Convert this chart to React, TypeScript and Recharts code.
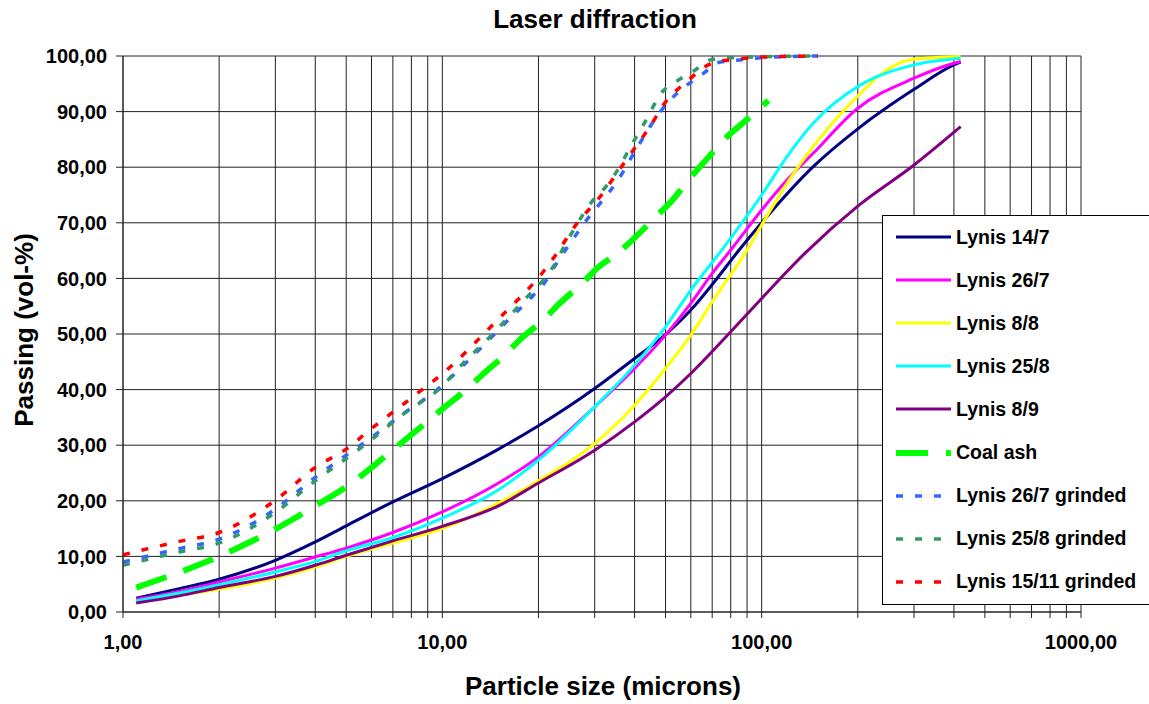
import { LineChart, Line, XAxis, YAxis, CartesianGrid } from "recharts"

// grid / tick positions
const xTicks = [1, 2, 3, 4, 5, 6, 7, 8, 9, 10, 20, 30, 40, 50, 60, 70, 80, 90, 100, 200, 300, 400, 500, 600, 700, 800, 900, 1000]
const decadeTicks = [1, 10, 100, 1000]
const yTicks = [0, 10, 20, 30, 40, 50, 60, 70, 80, 90, 100]

// Lynis 14/7
const lynis147X = [1.1, 1.5, 2, 3, 4, 5, 7, 10, 15, 20, 30, 40, 50, 60, 70, 85, 100, 145, 200, 300, 400, 420]
const lynis147Y = [2.5, 4.2, 5.9, 9.3, 12.6, 15.5, 19.8, 24.0, 29.3, 33.5, 40.2, 45.6, 49.9, 54.3, 58.9, 65.1, 70.0, 80.1, 86.9, 94.0, 98.4, 98.9]

// Lynis 26/7
const lynis267X = [1.1, 1.5, 2, 3, 4, 5, 7, 10, 15, 20, 30, 40, 50, 60, 70, 80, 100, 120, 145, 200, 300, 400, 420]
const lynis267Y = [2.3, 3.7, 5.4, 7.9, 9.9, 11.5, 14.3, 18.0, 23.2, 27.9, 36.9, 43.8, 49.8, 55.5, 60.9, 65.1, 72.3, 77.7, 82.5, 90.6, 96.0, 98.7, 99.0]

// Lynis 8/8
const lynis88X = [1.1, 1.5, 2, 3, 4, 5, 7, 10, 15, 20, 30, 40, 50, 60, 70, 90, 100, 120, 145, 200, 246, 300, 420]
const lynis88Y = [1.8, 3.0, 4.1, 6.1, 8.1, 10.0, 12.4, 15.0, 19.6, 23.6, 30.3, 37.2, 43.8, 49.8, 55.8, 65.1, 69.6, 77.1, 83.7, 92.8, 97.5, 99.4, 99.9]

// Lynis 25/8
const lynis258X = [1.1, 1.5, 2, 3, 4, 5, 7, 10, 15, 20, 30, 40, 50, 60, 75, 100, 120, 145, 200, 300, 420]
const lynis258Y = [2.0, 3.4, 4.9, 7.2, 9.1, 11.0, 13.4, 16.9, 22.0, 27.3, 36.9, 44.4, 51.3, 57.9, 65.1, 75.0, 81.9, 87.9, 94.5, 98.4, 99.6]

// Lynis 8/9
const lynis89X = [1.1, 1.5, 2, 3, 4, 5, 7, 10, 15, 20, 30, 40, 50, 60, 80, 100, 137, 200, 300, 420]
const lynis89Y = [1.6, 2.9, 4.4, 6.4, 8.4, 10.2, 12.8, 15.4, 19.1, 23.2, 29.1, 34.2, 38.7, 42.9, 50.4, 56.4, 64.6, 73.0, 80.4, 87.3]

// Coal ash
const coalAshX = [1.1, 1.4, 1.8, 2.3, 3, 4, 5, 6.5, 7.4, 9, 10, 12, 13.3, 15.8, 17.5, 20.8, 23.2, 27.5, 30.5, 35.5, 40, 47, 52, 60, 66.5, 78, 87.5, 105]
const coalAshY = [4.4, 6.5, 8.9, 11.6, 14.9, 19.1, 22.5, 27.6, 30.3, 34.3, 36.5, 40.2, 42.6, 46.4, 49.0, 52.6, 55.4, 59.2, 61.8, 64.6, 67.3, 71.3, 73.8, 78.2, 81.1, 85.5, 88.0, 92.0]

// Lynis 26/7 grinded
const grind267X = [1, 1.5, 2, 3, 4, 5, 6, 7.6, 9.6, 11.8, 14.3, 15.7, 19.3, 21, 22.5, 26.2, 28.3, 31.2, 35.4, 41.1, 48.5, 54.3, 66.5, 71.8, 85.5, 100, 150]
const grind267Y = [9.0, 11.4, 13.1, 18.5, 24.2, 28.2, 31.4, 35.8, 39.9, 44.7, 49.5, 51.9, 57.0, 59.4, 62.2, 67.8, 70.5, 73.5, 77.6, 83.9, 90.2, 93.3, 97.1, 98.7, 99.3, 99.7, 100]

// Lynis 25/8 grinded
const grind258X = [1, 1.5, 2, 3, 4, 5, 6, 7.55, 8.6, 9.6, 11.6, 14.1, 16.9, 18.6, 20.5, 22.3, 23.9, 27.3, 29.7, 31.2, 34.5, 39.6, 42.7, 49.1, 54.3, 61.6, 69, 79.4, 150]
const grind258Y = [8.4, 10.8, 12.4, 17.9, 23.6, 27.6, 31.0, 35.6, 37.8, 39.7, 44.7, 49.5, 54.3, 56.9, 59.4, 62.2, 65.4, 71.1, 74.1, 75.3, 78.5, 84.5, 87.7, 93.7, 95.5, 97.4, 99.3, 99.7, 100]

// Lynis 15/11 grinded
const grind1511X = [1, 1.5, 2, 3, 4, 5, 6, 7.6, 8.6, 9.6, 10.6, 12.9, 15.6, 17.2, 20.7, 22.5, 26.4, 31, 35.8, 39.1, 45.5, 49.1, 58.6, 70, 85.5, 100, 150]
const grind1511Y = [10.3, 12.7, 14.3, 20.1, 26.0, 29.3, 33.0, 37.5, 39.9, 42.0, 44.1, 48.9, 53.7, 56.1, 61.2, 64.0, 69.9, 74.5, 79.5, 82.6, 88.0, 91.1, 95.5, 98.7, 99.5, 99.8, 100]

const zip = (xs: number[], ys: number[]) => xs.map((x, i) => ({ x, y: ys[i] }))

const series = [
  { name: "Lynis 14/7", color: "#000080", width: 3, dash: undefined, data: zip(lynis147X, lynis147Y) },
  { name: "Lynis 26/7", color: "#FF00FF", width: 3, dash: undefined, data: zip(lynis267X, lynis267Y) },
  { name: "Lynis 8/8", color: "#FFFF00", width: 3, dash: undefined, data: zip(lynis88X, lynis88Y) },
  { name: "Lynis 25/8", color: "#00FFFF", width: 3, dash: undefined, data: zip(lynis258X, lynis258Y) },
  { name: "Lynis 8/9", color: "#800080", width: 3, dash: undefined, data: zip(lynis89X, lynis89Y) },
  { name: "Coal ash", color: "#00FF00", width: 6, dash: "32 18", data: zip(coalAshX, coalAshY) },
  { name: "Lynis 26/7 grinded", color: "#3366FF", width: 3.5, dash: "7 12", data: zip(grind267X, grind267Y) },
  { name: "Lynis 25/8 grinded", color: "#339966", width: 3.5, dash: "7 12", data: zip(grind258X, grind258Y) },
  { name: "Lynis 15/11 grinded", color: "#FF0000", width: 3.5, dash: "7 12", data: zip(grind1511X, grind1511Y) },
]

const FONT = "'Liberation Sans', Arial, sans-serif"
const fmt = (v: number) => v.toFixed(2).replace(".", ",")

export default function App() {
  return (
    <div style={{ position: "absolute", left: 0, top: 0, width: 1149, height: 704, background: "#fff", fontFamily: FONT, overflow: "hidden" }}>
      <div style={{ position: "absolute", left: 0, width: 1190, top: 4, textAlign: "center", fontSize: 26, fontWeight: "bold" }}>
        Laser diffraction
      </div>
      <div style={{ position: "absolute", left: 0, width: 1206, top: 671, textAlign: "center", fontSize: 26, fontWeight: "bold" }}>
        Particle size (microns)
      </div>
      <div
        style={{
          position: "absolute",
          left: 24,
          top: 330,
          transform: "translate(-50%, -50%) rotate(-90deg)",
          whiteSpace: "nowrap",
          fontSize: 26,
          fontWeight: "bold",
        }}
      >
        Passing (vol-%)
      </div>

      <LineChart width={1149} height={704} margin={{ top: 56, right: 68, left: 20, bottom: 52 }}>
        <CartesianGrid stroke="#222" strokeWidth={1} />
        <XAxis
          dataKey="x"
          type="number"
          scale="log"
          domain={[1, 1000]}
          ticks={xTicks}
          interval={0}
          allowDataOverflow
          height={40}
          tickSize={6}
          tickMargin={17}
          stroke="#222"
          tick={{ fill: "#000", fontSize: 20, fontWeight: "bold", fontFamily: FONT }}
          tickFormatter={(v: number) => (decadeTicks.includes(v) ? fmt(v) : "")}
        />
        <YAxis
          type="number"
          domain={[0, 100]}
          ticks={yTicks}
          interval={0}
          width={103}
          tickSize={7}
          tickMargin={9}
          stroke="#222"
          tick={{ fill: "#000", fontSize: 20, fontWeight: "bold", fontFamily: FONT }}
          tickFormatter={fmt}
        />
        {series.map((s) => (
          <Line
            key={s.name}
            data={s.data}
            dataKey="y"
            name={s.name}
            type="monotone"
            stroke={s.color}
            strokeWidth={s.width}
            strokeDasharray={s.dash}
            strokeLinecap="butt"
            dot={false}
            activeDot={false}
            isAnimationActive={false}
          />
        ))}
      </LineChart>

      <div
        style={{
          position: "absolute",
          left: 882,
          top: 215,
          width: 280,
          height: 388,
          background: "#fff",
          borderTop: "1.5px solid #000",
          borderLeft: "1.5px solid #000",
          borderBottom: "1.5px solid #000",
        }}
      >
        {series.map((s) => (
          <div key={s.name} style={{ display: "flex", alignItems: "center", height: 43.1, marginTop: s === series[0] ? -0.5 : 0 }}>
            <svg width={70} height={10} style={{ flex: "none" }}>
              <line x1={13} y1={5} x2={68} y2={5} stroke={s.color} strokeWidth={s.width} strokeDasharray={s.dash} />
            </svg>
            <span style={{ fontSize: 19.5, fontWeight: "bold", marginLeft: 3, whiteSpace: "nowrap" }}>{s.name}</span>
          </div>
        ))}
      </div>
    </div>
  )
}
